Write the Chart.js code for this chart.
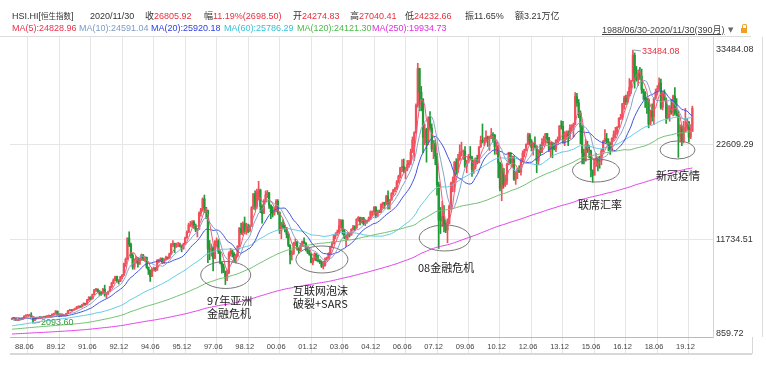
<!DOCTYPE html>
<html>
<head>
<meta charset="utf-8">
<script src="https://cdn.jsdelivr.net/npm/chart.js@4.4.1/dist/chart.umd.min.js"></script>
<style>
  body { margin: 0; background: #fff; }
  #wrap { position: relative; width: 766px; height: 367px; overflow: hidden;
          font-family: "Liberation Sans", "Noto Sans CJK SC", sans-serif; color: #333; }
  #wrap canvas { position: absolute; left: 0; top: 0; }
  .t { position: absolute; white-space: nowrap; font-size: 9px; line-height: 11px; }
  .red { color: #e8303f; }
  .note { position: absolute; white-space: nowrap; font-family: "Noto Sans CJK SC", sans-serif;
          font-size: 11px; line-height: 13px; color: #222; }
  .ln { position: absolute; }
</style>
</head>
<body>
<div id="wrap">
  <canvas id="chart" width="766" height="367"></canvas>

  <div class="t" style="left:12px;top:11px">HSI.HI[<span style="font-size:7.5px">恒生指数</span>]</div>
  <div class="t" style="left:90px;top:11px">2020/11/30</div>
  <div class="t" style="left:145px;top:11px">收<span class="red">26805.92</span></div>
  <div class="t" style="left:204px;top:11px">幅<span class="red">11.19%(2698.50)</span></div>
  <div class="t" style="left:293px;top:11px">开<span class="red">24274.83</span></div>
  <div class="t" style="left:350px;top:11px">高<span class="red">27040.41</span></div>
  <div class="t" style="left:405px;top:11px">低<span class="red">24232.66</span></div>
  <div class="t" style="left:465px;top:11px">振11.65%</div>
  <div class="t" style="left:515px;top:11px">额3.21万亿</div>

  <div class="t" style="left:12px;top:23px;color:#e8324e">MA(5):24828.96</div>
  <div class="t" style="left:79px;top:23px;color:#7a9cc6">MA(10):24591.04</div>
  <div class="t" style="left:151px;top:23px;color:#3040e0">MA(20):25920.18</div>
  <div class="t" style="left:224px;top:23px;color:#38c0d8">MA(60):25786.29</div>
  <div class="t" style="left:297px;top:23px;color:#4cb84c">MA(120):24121.30</div>
  <div class="t" style="left:372px;top:23px;color:#e030e0">MA(250):19934.73</div>
  <div class="t" style="left:602px;top:25px;color:#444;text-decoration:underline">1988/06/30-2020/11/30(390月)</div>
  <div class="t" style="left:728px;top:25px;color:#666;font-family:'DejaVu Sans';font-size:7px">▼</div>
  <div class="ln" style="left:741px;top:28px;width:6px;height:5px;background:#f0a020"></div>
  <div class="ln" style="left:742px;top:24px;width:3px;height:3px;border:1px solid #f0a020;border-bottom:none;border-radius:2px 2px 0 0"></div>

  <div class="ln" style="left:0;top:36px;width:751px;border-top:1px solid #dcdcdc"></div>
  <div class="ln" style="left:762px;top:37px;height:300px;border-left:1px solid #dcdcdc"></div>
  <div class="ln" style="left:10px;top:353px;width:742px;border-top:2px solid #d8d8d8"></div>
  <div class="ln" style="left:752px;top:337px;height:17px;border-left:1px solid #d8d8d8"></div>

  <div class="note" style="left:207px;top:294px">97年亚洲<br>金融危机</div>
  <div class="note" style="left:293px;top:284px">互联网泡沫<br>破裂+SARS</div>
  <div class="note" style="left:418px;top:261px">08金融危机</div>
  <div class="note" style="left:578px;top:198px">联席汇率</div>
  <div class="note" style="left:656px;top:169px">新冠疫情</div>

  <div class="t" id="peakLabel" style="color:#e8303f"></div>
  <div class="t" id="lowLabel" style="color:#3a9a3a"></div>
</div>

<script>
// monthly closes, 1967/09 - 1988/05 (only used to seed the moving averages)
const preCloses = [
  70, 66, 68, 66,
  72, 75, 78, 82, 88, 90, 92, 95, 98, 100, 104, 107,
  110, 115, 118, 120, 122, 125, 128, 130, 135, 140, 145, 155,
  160, 165, 170, 175, 180, 185, 190, 195, 200, 205, 210, 211,
  220, 230, 240, 250, 265, 280, 300, 310, 320, 330, 335, 341,
  350, 380, 400, 420, 450, 480, 500, 520, 550, 650, 750, 843,
  1200, 1500, 1500, 1000, 900, 800, 750, 600, 550, 500, 480, 434,
  420, 450, 400, 380, 350, 300, 290, 260, 230, 200, 180, 171,
  220, 280, 300, 320, 350, 380, 390, 380, 370, 360, 350, 350,
  400, 430, 420, 440, 430, 420, 420, 430, 440, 440, 440, 447,
  430, 420, 410, 400, 400, 410, 420, 420, 410, 400, 400, 404,
  400, 390, 400, 450, 550, 600, 580, 600, 620, 550, 500, 495,
  520, 560, 600, 620, 600, 620, 650, 680, 700, 720, 780, 879,
  900, 1000, 1050, 1000, 1000, 1050, 1100, 1150, 1200, 1300, 1450, 1474,
  1500, 1450, 1400, 1500, 1600, 1650, 1750, 1600, 1300, 1350, 1400, 1405,
  1300, 1300, 1200, 1150, 1150, 1100, 1100, 1000, 900, 800, 850, 784,
  850, 950, 1000, 1050, 1000, 950, 900, 850, 750, 800, 850, 875,
  1000, 1050, 1000, 1050, 1000, 900, 800, 950, 1050, 1100, 1150, 1200,
  1300, 1350, 1400, 1450, 1500, 1550, 1600, 1600, 1500, 1600, 1700, 1752,
  1700, 1650, 1600, 1700, 1800, 1900, 1850, 1950, 2000, 2200, 2350, 2568,
  2600, 2750, 2900, 2800, 2850, 3000, 3300, 3600, 3800, 2200, 2000, 2302,
  2400, 2500, 2450, 2600, 2550
];

// 390 months shown, 1988/06 - 2020/11
const firstOpen = 2560;
const closes = [
  2650, 2660, 2430, 2440, 2600, 2530, 2687,
  2920, 3000, 3010, 3020, 2860, 2430, 2650, 2630, 2760, 2730, 2790, 2837,
  2800, 2930, 2960, 2910, 3130, 3180, 3480, 3130, 2920, 3120, 3000, 3025,
  3230, 3540, 3600, 3560, 3680, 3760, 3960, 4040, 3970, 4210, 4380, 4297,
  4800, 5050, 4900, 5400, 5900, 6010, 5780, 5520, 5490, 6000, 5430, 5512,
  5730, 6300, 6700, 7050, 7450, 6980, 6900, 7440, 7600, 8930, 9440, 11888,
  11150, 9900, 8570, 9340, 9610, 8900, 9440, 9930, 9430, 9660, 8530, 8191,
  7500, 8300, 8440, 8200, 9300, 9300, 9550, 9040, 9460, 9660, 9590, 10073,
  11200, 11260, 10960, 11150, 11150, 10990, 10680, 11180, 11900, 12550, 13380, 13451,
  13700, 13300, 12800, 12900, 14750, 15200, 16370, 15380, 15050, 10620, 10530, 10723,
  9560, 11480, 11520, 10350, 9030, 8540, 8060, 7280, 7880, 10150, 10400, 10049,
  9510, 9860, 10940, 13000, 12500, 13530, 12620, 13120, 12730, 13250, 15380, 16962,
  15530, 17170, 17410, 15520, 14710, 16160, 16840, 17100, 15650, 14900, 14650, 15096,
  16100, 14810, 12760, 13390, 13170, 13040, 12320, 11090, 9950, 10070, 11280, 11397,
  10720, 10480, 11030, 11500, 11300, 10600, 10270, 10040, 9070, 9440, 10070, 9321,
  9260, 9120, 8630, 8720, 9490, 9580, 10130, 10910, 11230, 12190, 12320, 12576,
  13290, 13910, 12680, 11940, 12200, 12290, 12240, 12850, 13120, 13050, 14060, 14230,
  13720, 14200, 13520, 13910, 13870, 14200, 14880, 14900, 15430, 14390, 14940, 14876,
  15750, 15920, 15800, 16660, 15860, 16270, 17000, 17390, 17540, 18320, 18960, 19965,
  20110, 19650, 19800, 20320, 20630, 21770, 23180, 23980, 27140, 31350, 28640, 27813,
  23460, 24330, 22850, 25760, 24530, 22100, 22730, 21260, 18020, 13970, 13890, 14387,
  13280, 12810, 13580, 15520, 18170, 18380, 20570, 19720, 20960, 21750, 21820, 21872,
  20120, 20610, 21240, 21110, 19770, 20130, 21030, 20540, 22360, 23100, 23010, 23035,
  23450, 23340, 23530, 23720, 23680, 22400, 22440, 20530, 17590, 19860, 17990, 18434,
  20390, 21680, 20560, 21090, 18630, 19440, 19800, 19480, 20840, 21640, 22030, 22657,
  23730, 23020, 22300, 22740, 22390, 20800, 21880, 21730, 22860, 23210, 23880, 23306,
  22040, 22840, 22150, 22130, 23080, 23190, 24760, 24740, 22930, 23990, 23990, 23605,
  24510, 24820, 24900, 28130, 27420, 26250, 24640, 21670, 20850, 22640, 21996, 21914,
  19680, 19110, 20780, 21070, 20820, 20790, 21890, 22980, 23300, 22930, 22790, 22001,
  23360, 23740, 24110, 24620, 25660, 25760, 27320, 27970, 27550, 28250, 29180, 29919,
  32890, 30840, 30090, 30810, 30470, 28960, 28580, 27890, 27790, 24980, 26510, 25846,
  27940, 28630, 29050, 29700, 26900, 28540, 27780, 25720, 26090, 26910, 26350, 28190,
  26310, 26130, 23600, 24640, 22960, 24430, 24600, 25180, 23460, 24107, 26805.92
];
const highs = [
  2700, 2780, 2680, 2500, 2650, 2620, 2720,
  2960, 3080, 3110, 3130, 3310, 2860, 2700, 2750, 2800, 2880, 2850, 2900,
  2920, 2980, 3050, 3000, 3180, 3250, 3560, 3500, 3180, 3180, 3150, 3080,
  3250, 3580, 3700, 3680, 3720, 3850, 4020, 4110, 4100, 4250, 4450, 4400,
  4850, 5150, 5150, 5450, 6000, 6100, 6050, 5850, 5650, 6120, 6470, 5600,
  5800, 6350, 6800, 7200, 7500, 7520, 7100, 7500, 7700, 9000, 9600, 11900,
  12600, 11300, 10100, 9500, 9800, 9650, 9550, 10050, 10000, 9750, 9700, 8550,
  8200, 8400, 8550, 8500, 9420, 9450, 9620, 9600, 9500, 9800, 9720, 10150,
  11250, 11600, 11300, 11300, 11400, 11300, 11100, 11300, 12000, 12700, 13600, 13800,
  13900, 13900, 13500, 13000, 14900, 15300, 16500, 16820, 15400, 15100, 11600, 11200,
  10900, 11600, 11900, 11700, 10400, 9100, 8900, 8100, 8200, 10300, 10700, 10500,
  10200, 10000, 11000, 13100, 13600, 13750, 14300, 13600, 13500, 13400, 15500, 17000,
  17300, 17500, 18400, 17500, 15700, 16300, 17300, 17350, 17100, 15700, 15500, 15400,
  16300, 16300, 14900, 13700, 14000, 13400, 13100, 12400, 11100, 10400, 11400, 11800,
  11500, 10800, 11300, 11550, 11900, 11350, 10800, 10500, 10100, 9600, 10200, 10100,
  9900, 9400, 9250, 9200, 9600, 9700, 10200, 10950, 11450, 12200, 12500, 12800,
  14060, 14000, 14000, 12900, 12250, 12500, 12450, 12950, 13350, 13300, 14100, 14350,
  14300, 14250, 14250, 14000, 13950, 14300, 15000, 15000, 15500, 15500, 15100, 15100,
  15800, 16000, 16000, 16800, 17300, 16300, 17100, 17500, 17700, 18500, 19100, 20000,
  20900, 20970, 20000, 20800, 20800, 22100, 23500, 24100, 27300, 31960, 31400, 29300,
  27900, 25000, 24500, 25800, 26400, 25000, 23100, 23100, 21600, 18300, 15400, 16100,
  15600, 13900, 14100, 15700, 18300, 18900, 20700, 21000, 21500, 22600, 22900, 22000,
  22400, 20800, 21500, 22400, 21300, 20800, 21100, 21400, 22400, 23600, 24990, 23400,
  24200, 23600, 23600, 24470, 24000, 23800, 22900, 22500, 20600, 20400, 19900, 19100,
  20500, 21750, 21700, 21300, 21300, 19500, 19900, 20200, 21000, 21900, 22100, 22700,
  23950, 23900, 23200, 22800, 23500, 22500, 22000, 22600, 23300, 23600, 23900, 23900,
  23450, 22900, 22900, 22800, 23200, 23500, 24800, 25350, 25300, 24100, 24200, 24200,
  24900, 24900, 25100, 28600, 28500, 27800, 26500, 24800, 22100, 23200, 23000, 22500,
  22000, 19700, 21000, 21600, 21200, 21300, 22100, 23100, 24350, 23900, 23300, 22900,
  23400, 24200, 24600, 24700, 25700, 26100, 27350, 28200, 28300, 28700, 30200, 30000,
  33484.08, 33150, 31600, 31200, 31500, 31300, 29000, 28700, 28000, 27900, 26600, 27300,
  28000, 29000, 29400, 30280, 30150, 28700, 28900, 28000, 27100, 27100, 27800, 28300,
  29170, 27900, 26500, 24900, 24800, 25300, 26780, 25600, 25300, 24900, 27040.41
];
const lows = [
  2520, 2610, 2390, 2390, 2420, 2470, 2500,
  2680, 2880, 2930, 2940, 2800, 2093.6, 2400, 2560, 2600, 2650, 2690, 2750,
  2720, 2790, 2880, 2850, 2900, 3100, 3180, 3000, 2850, 2890, 2960, 2950,
  2980, 3220, 3500, 3500, 3540, 3650, 3740, 3880, 3900, 3960, 4180, 4180,
  4280, 4700, 4800, 4880, 5400, 5750, 5650, 5300, 5300, 5450, 5200, 4980,
  5400, 5700, 6150, 6650, 6950, 6800, 6600, 6880, 7200, 7600, 8600, 9400,
  10900, 9600, 8300, 8300, 9000, 8550, 8850, 9300, 9300, 9200, 8400, 7700,
  6890, 7450, 8100, 8050, 8150, 9050, 9200, 8950, 9000, 9300, 9450, 9550,
  10000, 10900, 10200, 10800, 10900, 10850, 10300, 10600, 11150, 11880, 12500, 13200,
  13100, 13000, 12600, 12000, 12900, 14400, 14950, 14800, 14100, 9060, 9400, 9800,
  8120, 9500, 10900, 10100, 8900, 7850, 7900, 6540, 7000, 7800, 9800, 9700,
  9150, 9000, 9700, 10900, 12300, 12200, 12400, 12300, 12500, 12600, 13200, 15200,
  15100, 15300, 16300, 14800, 13600, 14700, 16000, 16500, 15300, 14100, 14300, 14500,
  14900, 14600, 12400, 11800, 13000, 12600, 11900, 10900, 8900, 9350, 10000, 11000,
  10500, 10150, 10400, 10900, 11200, 10400, 10100, 9900, 9020, 8800, 9300, 9250,
  9150, 8950, 8500, 8330, 8650, 9300, 9550, 10000, 10750, 11200, 11800, 12200,
  12500, 13000, 12300, 11800, 10920, 11700, 12000, 12200, 12800, 12700, 13000, 13800,
  13400, 13600, 13400, 13300, 13600, 13800, 14000, 14400, 14600, 14200, 14300, 14800,
  14800, 15300, 15300, 15700, 15200, 15200, 16200, 16800, 17200, 17500, 18200, 18800,
  19500, 19400, 18700, 19600, 20000, 20300, 21700, 20780, 23900, 26900, 26500, 26500,
  21700, 22600, 20600, 22600, 24300, 21800, 21000, 20300, 16800, 10680, 12400, 13200,
  12600, 12500, 11340, 13500, 15200, 17200, 17200, 19200, 19400, 20800, 21300, 20900,
  20000, 19400, 20500, 21000, 18950, 19300, 19800, 20400, 20500, 22300, 22800, 22500,
  22900, 22400, 21950, 23300, 22900, 21500, 21500, 18800, 17300, 16170, 17600, 17800,
  18050, 20300, 20400, 20000, 18500, 18050, 18700, 19400, 19100, 20600, 21200, 21900,
  22600, 22500, 21900, 21400, 22200, 19400, 20300, 21400, 21700, 22500, 22600, 22800,
  21800, 21200, 21100, 22000, 21800, 22800, 23100, 24400, 22800, 22500, 23200, 22500,
  23300, 24200, 23500, 24900, 27000, 25700, 22700, 20400, 20400, 20700, 21700, 21100,
  18900, 18280, 19100, 20100, 19600, 19900, 20300, 21800, 22900, 22800, 21900, 21500,
  21900, 23100, 23400, 23800, 24600, 25500, 25500, 26700, 27200, 27400, 28200, 28500,
  29900, 29100, 29900, 29400, 30100, 28500, 27800, 26900, 26200, 24540, 24900, 25300,
  24900, 27800, 28300, 28900, 26700, 26600, 27700, 25050, 25600, 25300, 26100, 25900,
  26000, 25900, 21140, 22900, 22500, 22800, 24100, 24300, 22900, 23300, 24232.66
];

const maPeriods = [5, 10, 20, 60, 120, 250];
const maColors = ['#ee5a78', '#86a4c8', '#4052e0', '#5ccbe0', '#6cc06c', '#e040e8'];
const xTickLabels = ['88.06', '89.12', '91.06', '92.12', '94.06', '95.12', '97.06', '98.12',
  '00.06', '01.12', '03.06', '04.12', '06.06', '07.12', '09.06', '10.12', '12.06', '13.12',
  '15.06', '16.12', '18.06', '19.12'];
const yTickValues = [859.72, 11734.51, 22609.29, 33484.08];

// circled events: [month index, index level] centre, radii in px
const callouts = [
  { month: 122.2, value: 7640, rx: 25, ry: 13.5 },
  { month: 177.2, value: 9420, rx: 26, ry: 13.5 },
  { month: 247.4, value: 11890, rx: 25.5, ry: 13 },
  { month: 333.9, value: 19640, rx: 23.5, ry: 11.5 },
  { month: 380.5, value: 22000, rx: 17.5, ry: 9 }
];

const opens = closes.map((c, i) => i === 0 ? firstOpen : closes[i - 1]);
const upColor = '#f0505c';
const downColor = '#1f9a35';
const candleColors = closes.map((c, i) => c >= opens[i] ? upColor : downColor);

const allCloses = preCloses.concat(closes);
function movingAverage(n) {
  const off = preCloses.length;
  return closes.map((c, i) => {
    const end = off + i;
    const win = allCloses.slice(Math.max(0, end - n + 1), end + 1);
    return { x: i, y: win.reduce((a, b) => a + b, 0) / win.length };
  });
}

// y range: top tick 13px under the plot top, bottom tick 3px above the plot bottom (300px plot)
const yUnit = (yTickValues[3] - yTickValues[0]) / 284;
const yMin = yTickValues[0] - 3 * yUnit;
const yMax = yTickValues[3] + 13 * yUnit;
const xMin = -1.14, xMax = 400.8;

const datasets = [
  {
    type: 'bar', label: 'wick', order: 2, grouped: false, barThickness: 1,
    data: closes.map((c, i) => ({ x: i, y: [lows[i], highs[i]] })),
    backgroundColor: candleColors
  },
  {
    type: 'bar', label: 'body', order: 1, grouped: false, barThickness: 1.6,
    data: closes.map((c, i) => ({ x: i, y: [opens[i], c] })),
    backgroundColor: candleColors
  }
].concat(maPeriods.map((n, k) => ({
  type: 'line', label: 'MA' + n, order: 0,
  data: movingAverage(n),
  borderColor: maColors[k], borderWidth: 1, pointRadius: 0, tension: 0
})));

const peakLabel = document.getElementById('peakLabel');
const lowLabel = document.getElementById('lowLabel');

const decor = {
  id: 'decor',
  afterDraw(chart) {
    const { ctx, scales: { x, y } } = chart;
    ctx.save();
    ctx.strokeStyle = '#777';
    ctx.lineWidth = 1;
    callouts.forEach(c => {
      ctx.beginPath();
      ctx.ellipse(x.getPixelForValue(c.month), y.getPixelForValue(c.value), c.rx, c.ry, 0, 0, Math.PI * 2);
      ctx.stroke();
    });

    const hi = highs.indexOf(Math.max(...highs));
    const lo = lows.indexOf(Math.min(...lows));
    const hx = x.getPixelForValue(hi), hy = y.getPixelForValue(highs[hi]);
    const lx = x.getPixelForValue(lo), ly = y.getPixelForValue(lows[lo]);
    ctx.strokeStyle = '#8aa0c0';
    ctx.beginPath();
    ctx.moveTo(hx + 1, hy);
    ctx.lineTo(hx + 8, hy + 1);
    ctx.moveTo(lx + 1, ly);
    ctx.lineTo(lx + 7, ly - 1);
    ctx.stroke();
    ctx.restore();

    peakLabel.textContent = highs[hi].toFixed(2);
    peakLabel.style.left = (hx + 9) + 'px';
    peakLabel.style.top = (hy - 4.5) + 'px';
    lowLabel.textContent = lows[lo].toFixed(2);
    lowLabel.style.left = (lx + 8) + 'px';
    lowLabel.style.top = (ly - 6.5) + 'px';
  }
};

new Chart(document.getElementById('chart'), {
  type: 'bar',
  data: { datasets: datasets },
  plugins: [decor],
  options: {
    responsive: false,
    animation: false,
    layout: { padding: { left: 10, top: 37, right: 3, bottom: 14 } },
    plugins: { legend: { display: false }, tooltip: { enabled: false } },
    scales: {
      x: {
        type: 'linear', min: xMin, max: xMax, offset: false,
        afterBuildTicks: s => { s.ticks = xTickLabels.map((t, k) => ({ value: k * 18 })); },
        afterFit: s => { s.height = 16; },
        grid: { color: '#e6e6e6', tickLength: 16 },
        border: { color: '#aeb6e8' },
        ticks: {
          autoSkip: false, maxRotation: 0, align: 'start', labelOffset: 3, padding: -11,
          color: '#444', font: { family: 'Liberation Sans', size: 7.5 },
          callback: (v, idx) => xTickLabels[idx]
        }
      },
      y: {
        position: 'right', min: yMin, max: yMax,
        afterBuildTicks: s => { s.ticks = yTickValues.map(v => ({ value: v })); },
        afterFit: s => { s.width = 50; },
        grid: {
          drawTicks: false,
          color: c => (c.index === 1 || c.index === 2) ? '#e6e6e6' : 'rgba(0,0,0,0)'
        },
        border: { color: '#d4d4d4' },
        ticks: {
          padding: 3, color: '#333', font: { family: 'Liberation Sans', size: 9 },
          callback: v => v.toFixed(2)
        }
      }
    }
  }
});
</script>
</body>
</html>
